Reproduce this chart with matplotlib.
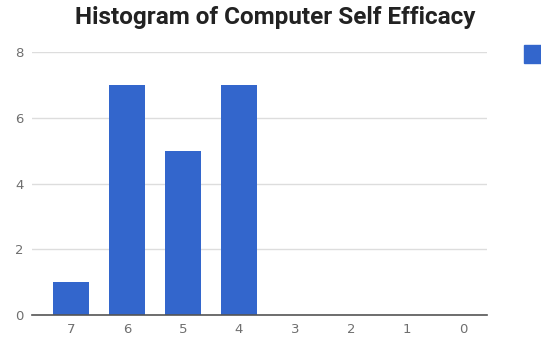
import matplotlib.pyplot as plt
from matplotlib.patches import Rectangle

# Score categories on the x axis (descending) and how many people scored each
scores = ['7', '6', '5', '4', '3', '2', '1', '0']
counts = [1, 7, 5, 7, 0, 0, 0, 0]
yticks = [0, 2, 4, 6, 8]

BLUE = '#3366cc'

fig = plt.figure(figsize=(5.41, 3.45), dpi=100)
ax = fig.add_axes([0.059, 0.087, 0.841, 0.762])

x = list(range(len(scores)))
ax.bar(x, counts, width=0.65, color=BLUE, zorder=3)

ax.set_xlim(-0.7, len(scores) - 0.57)
ax.set_ylim(0, 8)
ax.set_xticks(x)
ax.set_xticklabels(scores)
ax.set_yticks(yticks)

ax.grid(axis='y', color='#dddddd', linewidth=1, zorder=0)
for side in ['top', 'right', 'left']:
    ax.spines[side].set_visible(False)
ax.spines['bottom'].set_color('#555555')
ax.spines['bottom'].set_linewidth(1.2)
ax.spines['bottom'].set_zorder(4)
ax.tick_params(length=0, labelsize=9.5, labelcolor='#6f6f6f', pad=6)

fig.suptitle('Histogram of Computer Self Efficacy', x=0.508, y=0.982,
             fontsize=17.5, fontweight='bold', color='#222222',
             family='Roboto')

# legend key, clipped by the right edge of the canvas
fig.patches.append(Rectangle((524 / 541, 1 - 63 / 345), 20 / 541, 18 / 345,
                             transform=fig.transFigure, color=BLUE))

fig.savefig('out.png', dpi=100)
